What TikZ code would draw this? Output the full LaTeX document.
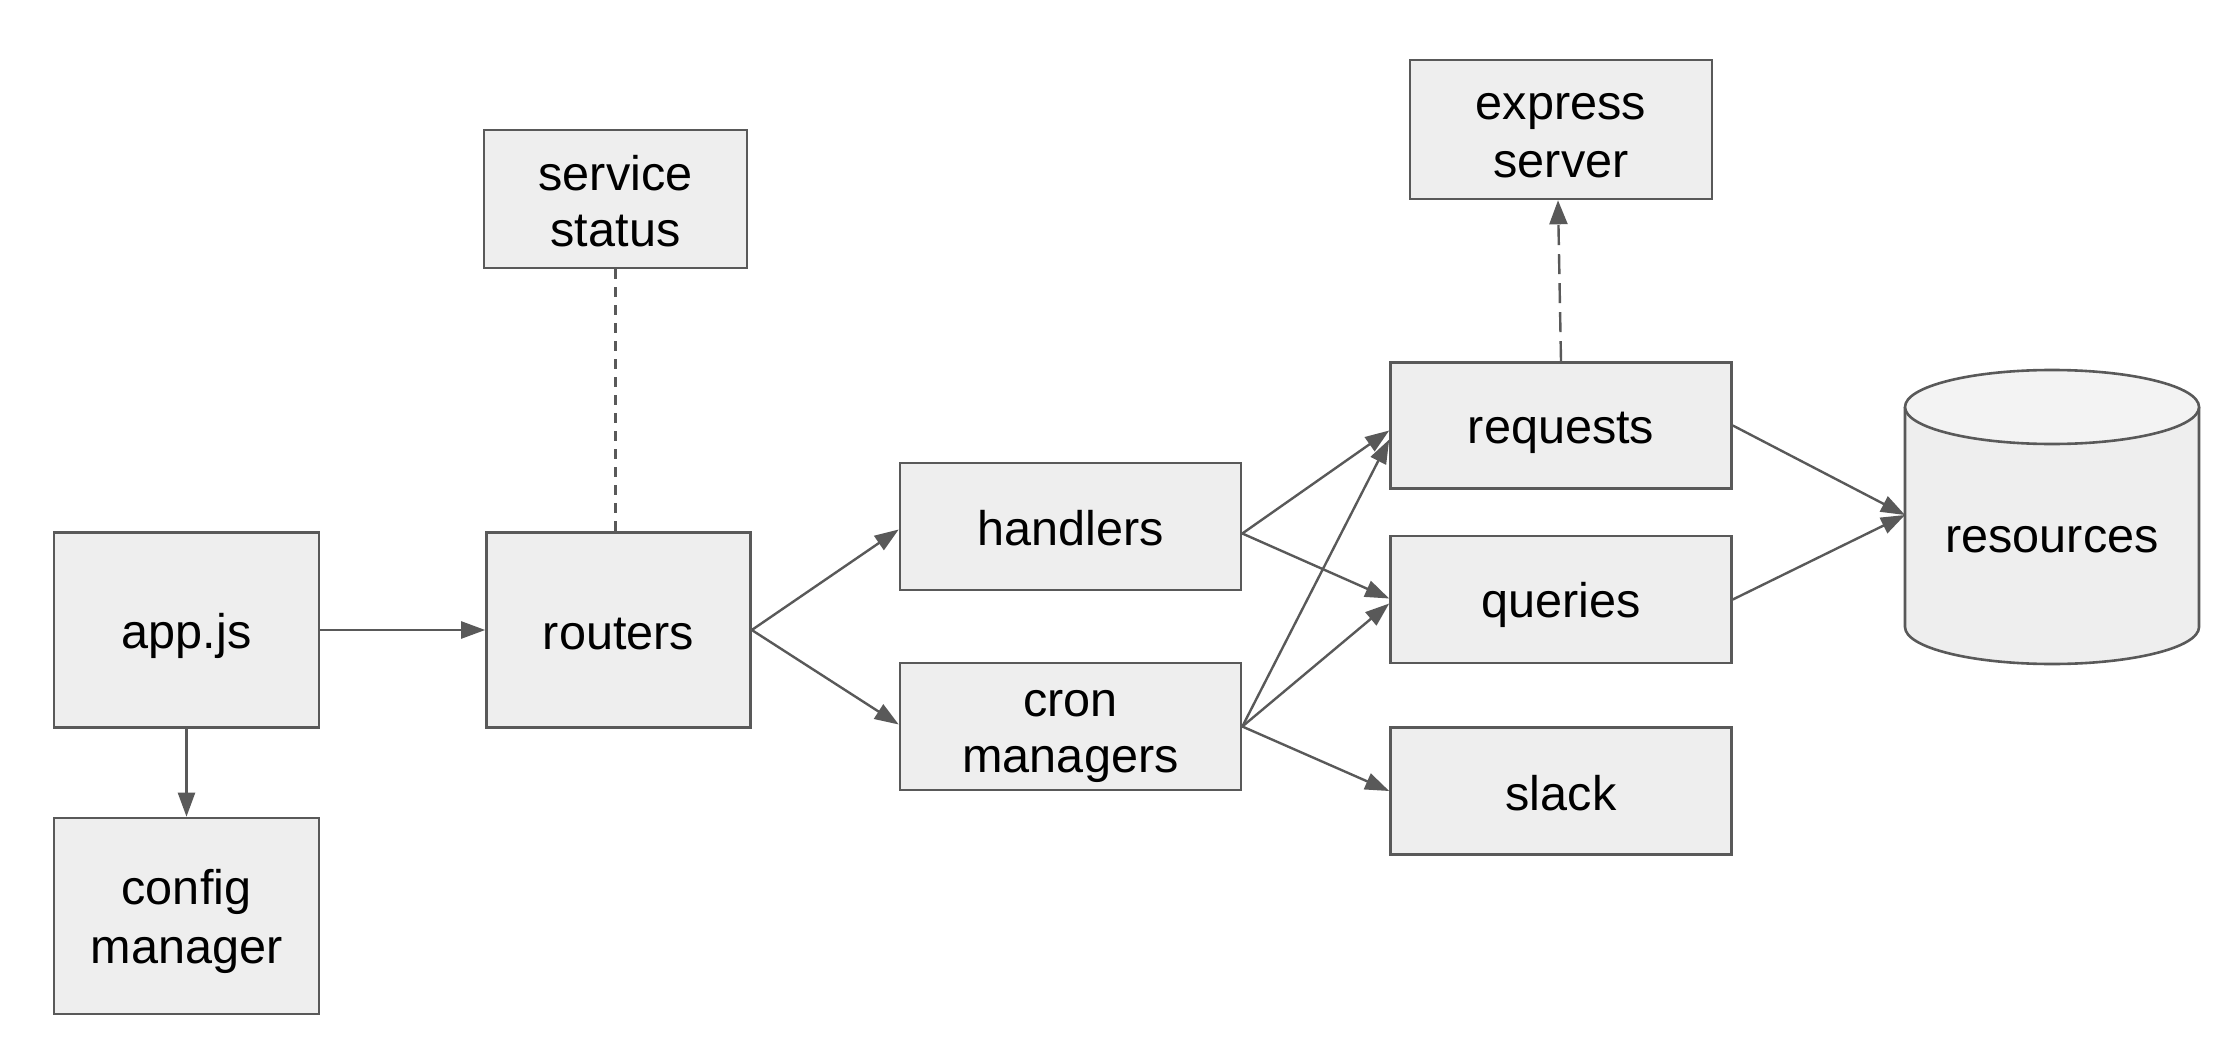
\documentclass[tikz,border=0pt]{standalone}
\usepackage{fontspec}
\setmainfont{Liberation Sans}
\usetikzlibrary{arrows.meta,calc}
\definecolor{edge}{HTML}{595959}
\definecolor{boxfill}{HTML}{EEEEEE}
\definecolor{topfill}{HTML}{F3F3F3}
\newcommand{\lstrut}{\rule[-0.165em]{0pt}{1.117em}}
\tikzset{
  box/.style={draw=edge, fill=boxfill, line width=1.3pt, rectangle, inner sep=0pt,
    align=center, font=\fontsize{24.3}{28}\selectfont},
  conn/.style={draw=edge, line width=1.2pt, -{Triangle[length=12pt,width=8.5pt]}},
  shortdash/.style={draw=edge, line width=1.2pt, dash pattern=on 5pt off 4pt},
  longdash/.style={draw=edge, line width=1.2pt, dash pattern=on 10pt off 4.5pt, -{Triangle[length=12pt,width=9pt]}},
}
\begin{document}
\begin{tikzpicture}[x=0.5pt,y=-0.5pt]
\useasboundingbox (0,0) rectangle (2232,1064);
% boxes
\node[box, minimum width=131.5pt, minimum height=69pt] (service) at (615.5,199) {service\lstrut\\status\lstrut};
\node[box, minimum width=132.5pt, minimum height=97.5pt] (appjs) at (186.5,630) {app.js\lstrut};
\node[box, minimum width=132.5pt, minimum height=98pt] (config) at (186.5,916) {config\lstrut\\manager\lstrut};
\node[box, minimum width=132pt, minimum height=97.5pt] (routers) at (618.5,630) {routers\lstrut};
\node[box, minimum width=170.5pt, minimum height=63.5pt] (handlers) at (1070.5,526.5) {handlers\lstrut};
\node[box, minimum width=170.5pt, minimum height=63.5pt] (cron) at (1070.5,726.5) {cron\lstrut\\managers\lstrut};
\node[box, minimum width=151pt, minimum height=69.5pt] (express) at (1561,129.5) {express\lstrut\\server\lstrut};
\node[box, minimum width=170.5pt, minimum height=63pt] (requests) at (1561,425.5) {requests\lstrut};
\node[box, minimum width=170.5pt, minimum height=63.5pt] (queries) at (1561,599.5) {queries\lstrut};
\node[box, minimum width=170.5pt, minimum height=63.5pt] (slack) at (1561,791) {slack\lstrut};
% cylinder
\filldraw[draw=edge, fill=boxfill, line width=1.3pt] (2199,407) -- (2199,627)
  arc[start angle=0, end angle=-180, x radius=73.5pt, y radius=18.5pt] -- (1905,407);
\filldraw[draw=edge, fill=topfill, line width=1.3pt] (2052,407) ellipse [x radius=73.5pt, y radius=18.5pt];
\node[font=\fontsize{24.3}{28}\selectfont, inner sep=0pt] (res) at (2052,540) {resources};
\coordinate (resin) at (1905,515);
% connectors
\draw[conn] (appjs.east) -- (routers.west);
\draw[conn] (appjs.south) -- (config.north);
\draw[shortdash] (service.south) -- (service.south |- routers.north);
\draw[conn] (routers.east) -- ($(handlers.west)+(0,3)$);
\draw[conn] (routers.east) -- ($(cron.west)+(0,-2)$);
\draw[conn] ($(handlers.east)+(0,7)$) -- ($(requests.west)+(0,5)$);
\draw[conn] ($(handlers.east)+(0,7)$) -- ($(queries.west)+(0,-1)$);
\draw[conn] (cron.east) -- ($(requests.west)+(0,14)$);
\draw[conn] (cron.east) -- ($(queries.west)+(0,4)$);
\draw[conn] (cron.east) -- (slack.west);
\draw[conn] (requests.east) -- (resin);
\draw[conn] (queries.east) -- (resin);
\draw[longdash] (requests.north) -- ($(express.south)+(-3,0)$);
\end{tikzpicture}
\end{document}
